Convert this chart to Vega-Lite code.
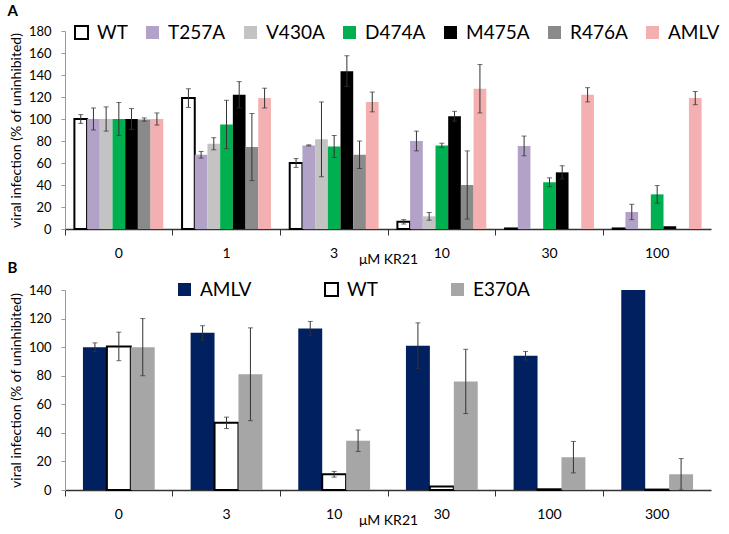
{
  "$schema": "https://vega.github.io/schema/vega-lite/v6.json",
  "background": "white",
  "padding": {"left": 7, "top": 4, "right": 0, "bottom": 2},
  "spacing": -5,
  "resolve": {"scale": {"x": "independent", "xOffset": "independent", "y": "independent", "color": "independent", "stroke": "independent"}, "legend": {"color": "independent", "stroke": "independent"}, "axis": {"x": "independent", "y": "independent"}},
  "config": {
    "font": "Lato",
    "view": {"stroke": null},
    "axis": {"labelFont": "Lato", "titleFont": "Lato", "labelColor": "#000", "titleColor": "#000", "titleFontWeight": "normal", "grid": false},
    "axisY": {"domainColor": "#999", "tickColor": "#999", "tickSize": 4, "labelFontSize": 13, "labelPadding": 10, "titleFontSize": 14, "titlePadding": 5, "labelOverlap": false},
    "axisX": {"domainColor": "#333", "domainWidth": 1.5, "tickColor": "#333", "tickSize": 6, "bandPosition": 0, "labelAngle": 0, "labelFontSize": 14, "labelPadding": 11, "titleFontSize": 14, "titleY": 30, "titleBaseline": "middle"},
    "title": {"fontSize": 15, "fontWeight": "bold", "anchor": "start", "frame": "bounds", "color": "#000"}
  },
  "vconcat": [
    {
      "title": {"text": "A", "dx": -2},
      "width": 646,
      "height": 198,
      "data": {"values": [
        {"conc": "0", "virus": "WT", "value": 100, "err": 4},
        {"conc": "0", "virus": "T257A", "value": 100, "err": 10},
        {"conc": "0", "virus": "V430A", "value": 100, "err": 11},
        {"conc": "0", "virus": "D474A", "value": 100, "err": 15},
        {"conc": "0", "virus": "M475A", "value": 100, "err": 9.5},
        {"conc": "0", "virus": "R476A", "value": 99.5, "err": 1.5},
        {"conc": "0", "virus": "AMLV", "value": 100, "err": 5.5},
        {"conc": "1", "virus": "WT", "value": 119, "err": 8.5},
        {"conc": "1", "virus": "T257A", "value": 67.5, "err": 3},
        {"conc": "1", "virus": "V430A", "value": 77.5, "err": 5.5},
        {"conc": "1", "virus": "D474A", "value": 95, "err": 22},
        {"conc": "1", "virus": "M475A", "value": 122, "err": 12},
        {"conc": "1", "virus": "R476A", "value": 74.5, "err": 30.5},
        {"conc": "1", "virus": "AMLV", "value": 119, "err": 9},
        {"conc": "3", "virus": "WT", "value": 60, "err": 4},
        {"conc": "3", "virus": "T257A", "value": 76, "err": 0.5},
        {"conc": "3", "virus": "V430A", "value": 81.5, "err": 34},
        {"conc": "3", "virus": "D474A", "value": 75, "err": 10},
        {"conc": "3", "virus": "M475A", "value": 143.5, "err": 14},
        {"conc": "3", "virus": "R476A", "value": 67.5, "err": 12.5},
        {"conc": "3", "virus": "AMLV", "value": 115.5, "err": 9},
        {"conc": "10", "virus": "WT", "value": 6.5, "err": 2},
        {"conc": "10", "virus": "T257A", "value": 80, "err": 9},
        {"conc": "10", "virus": "V430A", "value": 11.5, "err": 3.5},
        {"conc": "10", "virus": "D474A", "value": 76, "err": 2},
        {"conc": "10", "virus": "M475A", "value": 102.5, "err": 4.5},
        {"conc": "10", "virus": "R476A", "value": 40, "err": 31},
        {"conc": "10", "virus": "AMLV", "value": 127.5, "err": 22},
        {"conc": "30", "virus": "WT", "value": 0.5, "err": 0},
        {"conc": "30", "virus": "T257A", "value": 75.5, "err": 9},
        {"conc": "30", "virus": "D474A", "value": 42.5, "err": 4},
        {"conc": "30", "virus": "M475A", "value": 51.5, "err": 6},
        {"conc": "30", "virus": "AMLV", "value": 122, "err": 6.5},
        {"conc": "100", "virus": "WT", "value": 0.5, "err": 0},
        {"conc": "100", "virus": "T257A", "value": 15.5, "err": 7},
        {"conc": "100", "virus": "D474A", "value": 31.5, "err": 8},
        {"conc": "100", "virus": "M475A", "value": 2.5, "err": 0},
        {"conc": "100", "virus": "AMLV", "value": 119, "err": 6}
      ]},
      "layer": [
        {
          "mark": {"type": "bar", "strokeWidth": 2},
          "encoding": {
            "x": {"field": "conc", "type": "nominal", "sort": ["0", "1", "3", "10", "30", "100"], "scale": {"paddingInner": 0, "paddingOuter": 0}, "title": "μM KR21"},
            "xOffset": {"field": "virus", "type": "nominal", "sort": ["WT", "T257A", "V430A", "D474A", "M475A", "R476A", "AMLV"], "scale": {"paddingInner": 0, "paddingOuter": 0.74}},
            "y": {"field": "value", "type": "quantitative", "scale": {"domain": [0, 180]}, "axis": {"values": [0, 20, 40, 60, 80, 100, 120, 140, 160, 180], "labelOverlap": false}, "title": "viral infection (% of uninhibited)"},
            "color": {"field": "virus", "type": "nominal", "scale": {"domain": ["WT", "T257A", "V430A", "D474A", "M475A", "R476A", "AMLV"], "range": ["#FFFFFF", "#B3A2C7", "#C3C3C3", "#00B050", "#000000", "#8A8A8A", "#F4B0B0"]},
              "legend": {"orient": "none", "legendX": 7, "legendY": -8, "direction": "horizontal", "title": null, "symbolType": "square", "symbolSize": 169, "labelFontSize": 19, "columnPadding": 14, "symbolStrokeWidth": 2, "labelOffset": 6, "padding": 0, "labelColor": "#000"}},
            "stroke": {"field": "virus", "type": "nominal", "scale": {"domain": ["WT", "T257A", "V430A", "D474A", "M475A", "R476A", "AMLV"], "range": ["#000000", "transparent", "transparent", "transparent", "transparent", "transparent", "transparent"]}, "legend": {"orient": "none", "legendX": 7, "legendY": -8, "direction": "horizontal", "title": null, "symbolType": "square", "symbolSize": 169, "labelFontSize": 19, "columnPadding": 14, "symbolStrokeWidth": 2, "labelOffset": 6, "padding": 0, "labelColor": "#000"}}
          }
        },
        {
          "transform": [{"filter": "datum.err > 0"}],
          "mark": {"type": "errorbar", "ticks": {"size": 5, "color": "#333"}, "rule": {"color": "#333"}},
          "encoding": {
            "x": {"field": "conc", "type": "nominal", "sort": ["0", "1", "3", "10", "30", "100"]},
            "xOffset": {"field": "virus", "type": "nominal", "sort": ["WT", "T257A", "V430A", "D474A", "M475A", "R476A", "AMLV"]},
            "y": {"field": "value", "type": "quantitative", "title": "viral infection (% of uninhibited)", "axis": {"values": [0, 20, 40, 60, 80, 100, 120, 140, 160, 180], "labelOverlap": false}},
            "yError": {"field": "err"}
          }
        }
      ]
    },
    {
      "title": {"text": "B", "dx": -2},
      "width": 646,
      "height": 200,
      "data": {"values": [
        {"conc": "0", "virus": "AMLV", "value": 100, "err": 3},
        {"conc": "0", "virus": "WT", "value": 100.5, "err": 10},
        {"conc": "0", "virus": "E370A", "value": 100, "err": 20},
        {"conc": "3", "virus": "AMLV", "value": 110, "err": 5},
        {"conc": "3", "virus": "WT", "value": 47, "err": 4},
        {"conc": "3", "virus": "E370A", "value": 81, "err": 32.5},
        {"conc": "10", "virus": "AMLV", "value": 113, "err": 5},
        {"conc": "10", "virus": "WT", "value": 11, "err": 2},
        {"conc": "10", "virus": "E370A", "value": 34.5, "err": 7.5},
        {"conc": "30", "virus": "AMLV", "value": 101, "err": 16},
        {"conc": "30", "virus": "WT", "value": 2.5, "err": 0},
        {"conc": "30", "virus": "E370A", "value": 76, "err": 22.5},
        {"conc": "100", "virus": "AMLV", "value": 94, "err": 3},
        {"conc": "100", "virus": "WT", "value": 0.5, "err": 0},
        {"conc": "100", "virus": "E370A", "value": 23, "err": 11},
        {"conc": "300", "virus": "AMLV", "value": 140, "err": 0},
        {"conc": "300", "virus": "WT", "value": 0.3, "err": 0},
        {"conc": "300", "virus": "E370A", "value": 11, "err": 11}
      ]},
      "layer": [
        {
          "mark": {"type": "bar", "strokeWidth": 2},
          "encoding": {
            "x": {"field": "conc", "type": "nominal", "sort": ["0", "3", "10", "30", "100", "300"], "scale": {"paddingInner": 0, "paddingOuter": 0}, "title": "μM KR21"},
            "xOffset": {"field": "virus", "type": "nominal", "sort": ["AMLV", "WT", "E370A"], "scale": {"paddingInner": 0, "paddingOuter": 0.75}},
            "y": {"field": "value", "type": "quantitative", "scale": {"domain": [0, 140]}, "axis": {"values": [0, 20, 40, 60, 80, 100, 120, 140], "labelOverlap": false}, "title": "viral infection (% of uninhibited)"},
            "color": {"field": "virus", "type": "nominal", "scale": {"domain": ["AMLV", "WT", "E370A"], "range": ["#002060", "#FFFFFF", "#A6A6A6"]},
              "legend": {"orient": "none", "legendX": 110, "legendY": -10, "direction": "horizontal", "title": null, "symbolType": "square", "symbolSize": 169, "labelFontSize": 19, "columnPadding": 69, "symbolStrokeWidth": 2, "labelOffset": 6, "padding": 0, "labelColor": "#000"}},
            "stroke": {"field": "virus", "type": "nominal", "scale": {"domain": ["AMLV", "WT", "E370A"], "range": ["transparent", "#000000", "transparent"]}, "legend": {"orient": "none", "legendX": 110, "legendY": -10, "direction": "horizontal", "title": null, "symbolType": "square", "symbolSize": 169, "labelFontSize": 19, "columnPadding": 69, "symbolStrokeWidth": 2, "labelOffset": 6, "padding": 0, "labelColor": "#000"}}
          }
        },
        {
          "transform": [{"filter": "datum.err > 0"}],
          "mark": {"type": "errorbar", "ticks": {"size": 5, "color": "#333"}, "rule": {"color": "#333"}},
          "encoding": {
            "x": {"field": "conc", "type": "nominal", "sort": ["0", "3", "10", "30", "100", "300"]},
            "xOffset": {"field": "virus", "type": "nominal", "sort": ["AMLV", "WT", "E370A"]},
            "y": {"field": "value", "type": "quantitative", "title": "viral infection (% of uninhibited)", "axis": {"values": [0, 20, 40, 60, 80, 100, 120, 140], "labelOverlap": false}},
            "yError": {"field": "err"}
          }
        }
      ]
    }
  ]
}
